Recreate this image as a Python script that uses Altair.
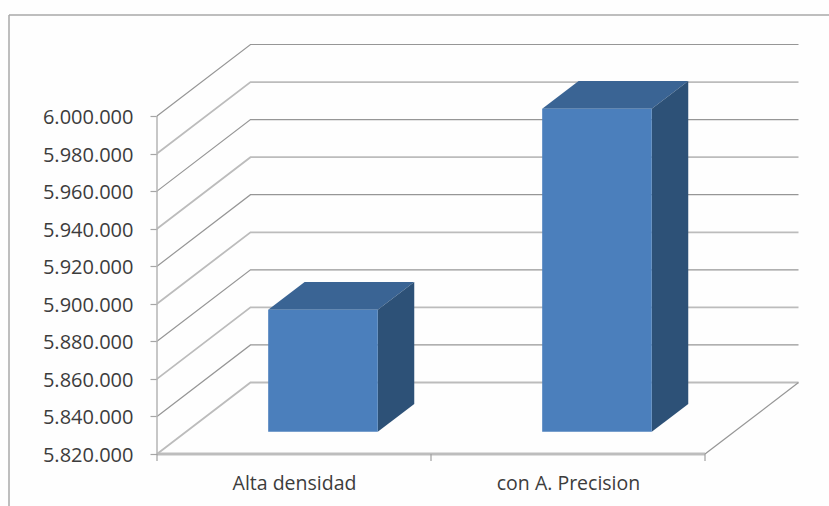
import altair as alt
import pandas as pd

# Chart values
categories = ["Alta densidad", "con A. Precision"]
values = [5885000, 5992000]
y_ticks = [5820000, 5840000, 5860000, 5880000, 5900000, 5920000, 5940000, 5960000, 5980000, 6000000]

# Oblique projection of the 3D box: one full unit of depth shifts right and up
VALUE_PER_PX = 180000 / 338
UNIT_PX = 274
DEPTH_X = 93.5 / UNIT_PX
DEPTH_Y = 71.5 * VALUE_PER_PX
BASE = y_ticks[0]
BAR_START = 0.3
BAR_WIDTH = 0.4
BAR_DEPTH_FROM = 0.31
BAR_DEPTH_TO = 0.70

x_min, x_max = -157 / UNIT_PX, (829 - 157) / UNIT_PX
y_min, y_max = BASE - 52 * VALUE_PER_PX, y_ticks[-1] + 116 * VALUE_PER_PX
x_scale = alt.Scale(domain=[x_min, x_max], nice=False, zero=False)
y_scale = alt.Scale(domain=[y_min, y_max], nice=False, zero=False)


def px(u, d):
    return u + d * DEPTH_X


def py(v, d):
    return v + d * DEPTH_Y


# Wall and floor grid: from the front edge back along the side wall, then across the back wall
grid_rows = []
for i, tick in enumerate(sorted(y_ticks, reverse=True)):
    light = i % 2 == 1
    for order, (u, d) in enumerate([(0, 0), (0, 1), (len(categories), 1)]):
        grid_rows.append({
            "tick": tick, "order": order, "x": px(u, d), "y": py(tick, d),
            "color": "#bcbcbc" if light else "#969696",
            "width": 1.8 if light else 1.2,
        })
grid = pd.DataFrame(grid_rows)

# Bar faces
front_rows, side_rows, top_rows = [], [], []
for i, (name, value) in enumerate(zip(categories, values)):
    u0 = i + BAR_START
    u1 = u0 + BAR_WIDTH
    d0, d1 = BAR_DEPTH_FROM, BAR_DEPTH_TO
    front_rows.append({"cat": name, "x": px(u0, d0), "x2": px(u1, d0), "y": py(BASE, d0), "y2": py(value, d0)})
    side_rows += [
        {"cat": name, "x": px(u1, d0), "y": py(BASE, d0), "y2": py(value, d0)},
        {"cat": name, "x": px(u1, d1), "y": py(BASE, d1), "y2": py(value, d1)},
    ]
    top_rows += [
        {"cat": name, "x": px(u0, d0), "y": py(value, d0), "y2": py(value, d0)},
        {"cat": name, "x": px(u0, d1), "y": py(value, d0), "y2": py(value, d1)},
        {"cat": name, "x": px(u1, d0), "y": py(value, d0), "y2": py(value, d1)},
        {"cat": name, "x": px(u1, d1), "y": py(value, d1), "y2": py(value, d1)},
    ]
front = pd.DataFrame(front_rows)
side = pd.DataFrame(side_rows)
top = pd.DataFrame(top_rows)

# The axes sit on the front plane of the box, inside the plot area
y_axis = alt.Axis(
    values=y_ticks,
    labelExpr="replace(format(datum.value, ','), regexp(',', 'g'), '.')",
    offset=-157,
    domain=False,
    grid=False,
    tickSize=7,
    tickColor="#a6a6a6",
    tickWidth=1.2,
    labelPadding=17,
    labelOffset=1.5,
    labelFont="Open Sans",
    labelFontSize=20,
    labelColor="#3c3c3c",
    title=None,
)
x_axis = alt.Axis(
    values=[0.5, 1.5],
    labelExpr="datum.value < 1 ? '%s' : '%s'" % (categories[0], categories[1]),
    offset=-52,
    domain=False,
    grid=False,
    ticks=False,
    labelPadding=20,
    labelFont="Open Sans",
    labelFontSize=19.5,
    labelColor="#3c3c3c",
    title=None,
)
X = alt.X("x:Q", scale=x_scale, axis=x_axis)
Y = alt.Y("y:Q", scale=y_scale, axis=y_axis)

grid_layer = alt.Chart(grid).mark_line().encode(
    x=X,
    y=Y,
    detail="tick:Q",
    order="order:Q",
    color=alt.Color("color:N", scale=None),
    strokeWidth=alt.StrokeWidth("width:Q", scale=None),
)

# Outer frame (left and top sides), front and right edges of the floor,
# the vertical axis line and the category ticks
tick_end = BASE - 7 * VALUE_PER_PX
frame_x = -148 / UNIT_PX
frame_y = y_ticks[-1] + 101 * VALUE_PER_PX
edge = pd.DataFrame([
    {"x": frame_x, "x2": frame_x, "y": y_min, "y2": frame_y, "w": 1.5, "c": "#a8a8a8"},
    {"x": frame_x, "x2": x_max, "y": frame_y, "y2": frame_y, "w": 1.5, "c": "#a8a8a8"},
    {"x": 0, "x2": len(categories), "y": BASE, "y2": BASE, "w": 3, "c": "#bdbdbd"},
    {"x": 0, "x2": 0, "y": BASE, "y2": y_ticks[-1], "w": 1.5, "c": "#b4b4b4"},
    {"x": len(categories), "x2": px(len(categories), 1), "y": BASE, "y2": py(BASE, 1), "w": 1.2, "c": "#969696"},
    {"x": 0, "x2": 0, "y": BASE, "y2": tick_end, "w": 1.2, "c": "#a0a0a0"},
    {"x": 1, "x2": 1, "y": BASE, "y2": tick_end, "w": 1.2, "c": "#a0a0a0"},
    {"x": 2, "x2": 2, "y": BASE, "y2": tick_end, "w": 1.2, "c": "#a0a0a0"},
])
edge_layer = alt.Chart(edge).mark_rule().encode(
    x=X, x2="x2:Q", y=Y, y2="y2:Q",
    color=alt.Color("c:N", scale=None),
    strokeWidth=alt.StrokeWidth("w:Q", scale=None),
)

top_layer = alt.Chart(top).mark_area(color="#3a6494", orient="vertical").encode(
    x=X, y=Y, y2="y2:Q", detail="cat:N"
)
side_layer = alt.Chart(side).mark_area(color="#2d5177", orient="vertical").encode(
    x=X, y=Y, y2="y2:Q", detail="cat:N"
)
front_layer = alt.Chart(front).mark_rect(color="#4b7fbc").encode(
    x=X, x2="x2:Q", y=Y, y2="y2:Q"
)

chart = alt.layer(
    grid_layer, edge_layer, top_layer, side_layer, front_layer
).properties(
    width=829,
    height=506,
    padding=0,
    autosize=alt.AutoSizeParams(type="none"),
    background="#fefefe",
).configure_view(stroke=None)

chart.save("out.html", embed_options={"renderer": "svg", "actions": False})
